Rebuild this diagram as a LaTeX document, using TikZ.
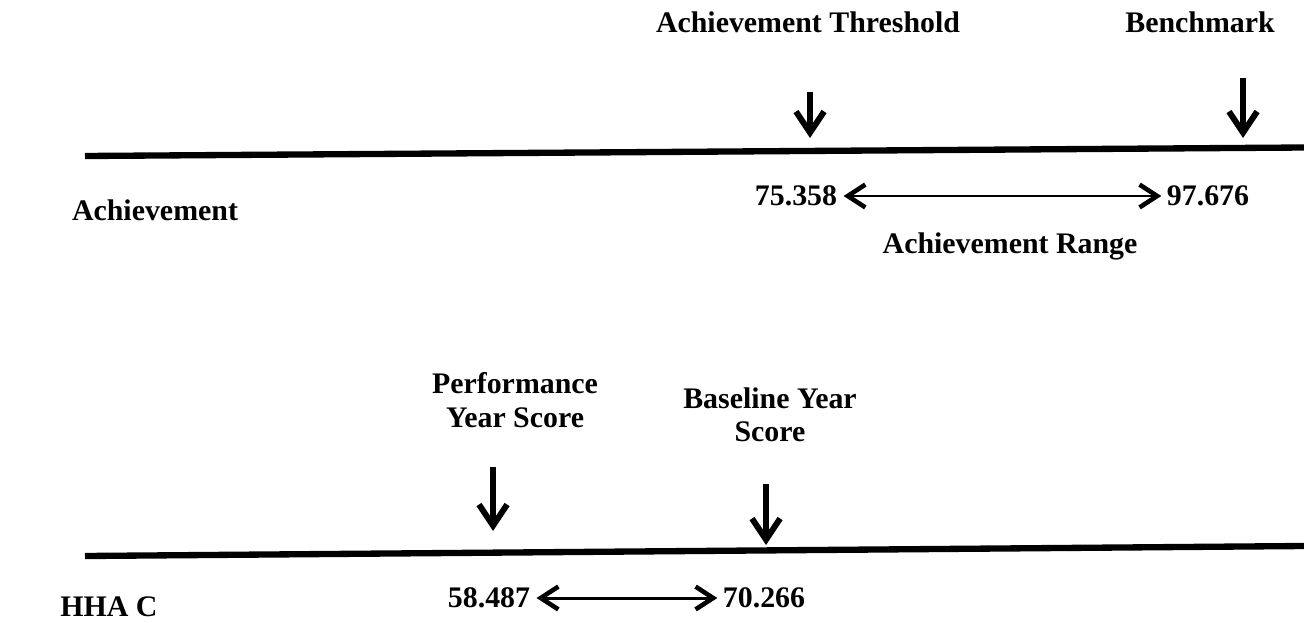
\documentclass[tikz,border=0pt]{standalone}
\usepackage{fontspec}
\setmainfont{Liberation Serif}
\usepackage{tikz}
\usetikzlibrary{arrows.meta, positioning}

\begin{document}
\begin{tikzpicture}[
    x=0.02cm, y=-0.02cm,
    lbl/.style={font=\fontsize{17}{19}\selectfont\bfseries, align=center, inner sep=1pt},
    scaleline/.style={line width=3.6pt},
    marker/.style={-{Straight Barb[length=12pt, width=16pt]}, line width=3.4pt},
    spanarrow/.style={{Straight Barb[length=10pt, width=13pt, line width=2.6pt]}-{Straight Barb[length=10pt, width=13pt, line width=2.6pt]}, line width=1.7pt, shorten <=2.5pt, shorten >=2pt}
]
\useasboundingbox (0,0) rectangle (1304,622);

% achievement scale
\coordinate (aL) at (85,156);
\coordinate (aR) at (1304,147.5);
\draw [scaleline] (aL) -- (aR);

\node (thr) [lbl] at (808,22) {Achievement Threshold};
\node (bench) [lbl] at (1200,22) {Benchmark};
\coordinate (thrTop) at (810,92);
\coordinate (thrTip) at (810,138);
\coordinate (benchTop) at (1243,78);
\coordinate (benchTip) at (1243,138);
\draw [marker] (thrTop) -- (thrTip);
\draw [marker] (benchTop) -- (benchTip);

\node (ach) [lbl] at (155,210) {Achievement};
\node (thrVal) [lbl] at (796,196) {75.358};
\node (benchVal) [lbl] at (1208,196) {97.676};
\draw [spanarrow] (thrVal) -- (benchVal);
\node (achRange) [lbl] at (1010,246) {Achievement Range};

% improvement scale
\coordinate (bL) at (85,556);
\coordinate (bR) at (1304,546);
\draw [scaleline] (bL) -- (bR);

\node (perf) [lbl] at (515,400) {Performance\\Year Score};
\node (base) [lbl] at (770,415) {Baseline Year\\Score};
\coordinate (perfTop) at (493,467);
\coordinate (perfTip) at (493,531);
\coordinate (baseTop) at (766,484);
\coordinate (baseTip) at (766,545);
\draw [marker] (perfTop) -- (perfTip);
\draw [marker] (baseTop) -- (baseTip);

\node (hha) [lbl] at (109,607) {HHA C};
\node (perfVal) [lbl] at (489,598) {58.487};
\node (baseVal) [lbl] at (764,598) {70.266};
\draw [spanarrow] (perfVal) -- (baseVal);

\end{tikzpicture}
\end{document}
